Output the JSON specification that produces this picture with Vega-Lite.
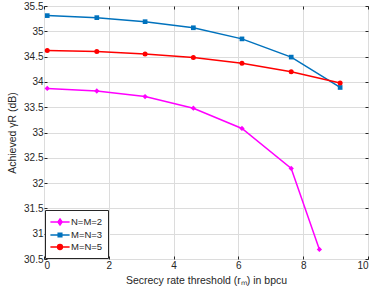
{
  "$schema": "https://vega.github.io/schema/vega-lite/v6.json",
  "autosize": {"type": "none"},
  "padding": {"left": 44, "top": 6, "right": 6, "bottom": 38},
  "width": 324,
  "height": 253,
  "config": {
    "font": "Liberation Sans",
    "view": {"stroke": "#262626", "strokeWidth": 1},
    "axis": {
      "labelFont": "Liberation Sans", "titleFont": "Liberation Sans",
      "labelFontSize": 10, "titleFontSize": 10.5, "titleFontWeight": "normal",
      "labelColor": "#262626", "titleColor": "#262626",
      "gridColor": "#dcdcdc", "gridWidth": 1,
      "tickColor": "#262626", "tickSize": -3, "domain": false,
      "labelPadding": 4
    }
  },
  "data": {"values": [
    {"x": 0.1, "y": 33.87, "s": "N=M=2"},
    {"x": 1.63, "y": 33.82, "s": "N=M=2"},
    {"x": 3.12, "y": 33.71, "s": "N=M=2"},
    {"x": 4.61, "y": 33.48, "s": "N=M=2"},
    {"x": 6.11, "y": 33.08, "s": "N=M=2"},
    {"x": 7.63, "y": 32.29, "s": "N=M=2"},
    {"x": 8.5, "y": 30.69, "s": "N=M=2"},
    {"x": 0.1, "y": 35.31, "s": "M=N=3"},
    {"x": 1.63, "y": 35.27, "s": "M=N=3"},
    {"x": 3.12, "y": 35.19, "s": "M=N=3"},
    {"x": 4.61, "y": 35.07, "s": "M=N=3"},
    {"x": 6.11, "y": 34.85, "s": "M=N=3"},
    {"x": 7.63, "y": 34.49, "s": "M=N=3"},
    {"x": 9.14, "y": 33.89, "s": "M=N=3"},
    {"x": 0.1, "y": 34.62, "s": "M=N=5"},
    {"x": 1.63, "y": 34.6, "s": "M=N=5"},
    {"x": 3.12, "y": 34.55, "s": "M=N=5"},
    {"x": 4.61, "y": 34.48, "s": "M=N=5"},
    {"x": 6.11, "y": 34.37, "s": "M=N=5"},
    {"x": 7.63, "y": 34.2, "s": "M=N=5"},
    {"x": 9.14, "y": 33.98, "s": "M=N=5"}
  ]},
  "layer": [
    {
      "encoding": {
        "x": {"field": "x", "type": "quantitative",
          "scale": {"domain": [0, 10], "nice": false, "zero": false},
          "axis": {"values": [0, 2, 4, 6, 8, 10], "title": "Secrecy rate threshold (rₘ) in  bpcu", "titlePadding": 5}},
        "y": {"field": "y", "type": "quantitative",
          "scale": {"domain": [30.5, 35.5], "nice": false, "zero": false},
          "axis": {"values": [30.5, 31, 31.5, 32, 32.5, 33, 33.5, 34, 34.5, 35, 35.5], "format": ".1~f", "title": "Achieved γR (dB)", "titlePadding": 6}},
        "color": {"field": "s", "type": "nominal",
          "scale": {"domain": ["N=M=2", "M=N=3", "M=N=5"], "range": ["#ff00ff", "#0072bd", "#ff0000"]},
          "legend": {"title": null, "orient": "bottom-left", "offset": 1,
            "strokeColor": "#262626", "fillColor": "white", "padding": 5,
            "labelFontSize": 9.5, "labelColor": "#262626", "symbolSize": 144, "symbolStrokeWidth": 1.5,
            "symbolOffset": 3, "rowPadding": 0, "labelOffset": 4,
            "encode": {"symbols": {"update": {
              "fill": {"scale": "color", "field": "value"},
              "stroke": {"scale": "color", "field": "value"},
              "shape": {"signal": "datum.value == 'N=M=2' ? 'M-1.6,0L1.6,0M0,-0.5L0.35,0L0,0.5L-0.35,0Z' : datum.value == 'M=N=3' ? 'M-1.6,0L1.6,0M-0.3,-0.3H0.3V0.3H-0.3Z' : 'M-1.6,0L1.6,0M-0.4,0A0.4,0.4 0 1 0 0.4,0A0.4,0.4 0 1 0 -0.4,0Z'"}
            }}}}}
      },
      "layer": [
        {"mark": {"type": "line", "strokeWidth": 1.5}},
        {"transform": [{"filter": "datum.s == 'N=M=2'"}],
          "mark": {"type": "point", "filled": true, "size": 28, "opacity": 1, "shape": "diamond"}},
        {"transform": [{"filter": "datum.s == 'M=N=3'"}],
          "mark": {"type": "point", "filled": true, "size": 22, "opacity": 1, "shape": "square"}},
        {"transform": [{"filter": "datum.s == 'M=N=5'"}],
          "mark": {"type": "point", "filled": true, "size": 25, "opacity": 1, "shape": "circle"}}
      ]
    },
    {
      "mark": {"type": "point", "size": 1, "opacity": 0},
      "encoding": {
        "x": {"field": "x", "type": "quantitative", "axis": {"orient": "top", "values": [0, 2, 4, 6, 8, 10], "labels": false, "title": null, "grid": false}},
        "y": {"field": "y", "type": "quantitative", "axis": {"orient": "right", "values": [30.5, 31, 31.5, 32, 32.5, 33, 33.5, 34, 34.5, 35, 35.5], "labels": false, "title": null, "grid": false}}
      }
    }
  ],
  "resolve": {"axis": {"x": "independent", "y": "independent"}}
}
